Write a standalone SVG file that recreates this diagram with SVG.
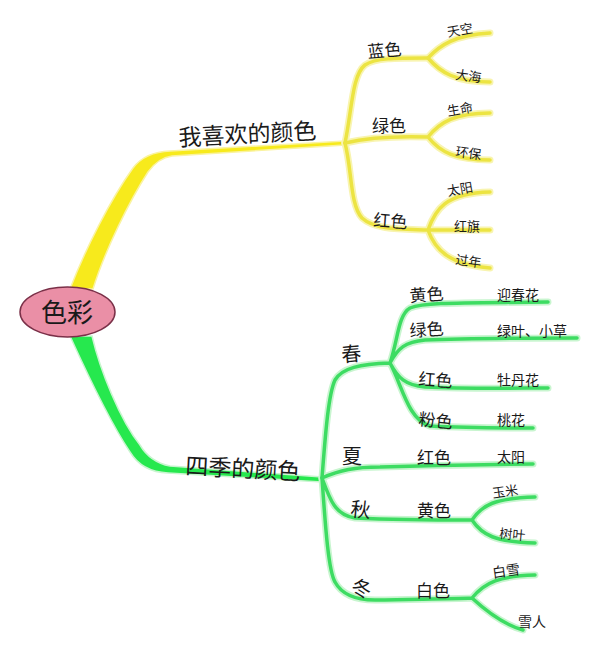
<svg xmlns="http://www.w3.org/2000/svg" width="598" height="649" viewBox="0 0 598 649">
<style>
text{font-family:"Noto Sans CJK SC","Noto Sans",sans-serif;fill:#1a1a1a}
.yh{fill:none;stroke:#f8f4b0;stroke-width:7;stroke-linecap:round}
.y{fill:none;stroke:#ece442;stroke-width:3.5;stroke-linecap:round}
.gh{fill:none;stroke:#c8f5cf;stroke-width:7;stroke-linecap:round}
.g{fill:none;stroke:#3ddc62;stroke-width:3.5;stroke-linecap:round}
.m{font-size:23px}
.b{font-size:17px}
.s{font-size:20px}
.l{font-size:13px}
.k{font-size:14px}
</style>
<rect width="598" height="649" fill="#ffffff"/>
<g id="connectors">
<path d="M70,289 C85,250 110,200 133,168 Q145,152 170,151 L345,141 L345,145 L172,156 Q158,158 148,172 C130,200 105,250 93,289 Z" fill="#f7ea1c" stroke="#faf3a0" stroke-width="1.5"/>
<path d="M92,336 C100,370 120,420 140,445 Q150,462 170,466 L322,477 L322,482 L168,473 Q142,472 130,452 C112,425 90,380 70,336 Z" fill="#26e84e" stroke="#c8f5cf" stroke-width="1.5"/>
<g>
<path class="yh" d="M345,143 C352,110 352,75 365,65 C375,58 395,58 428,58"/>
<path class="yh" d="M428,58 C440,45 455,35 490,33 M428,58 C440,72 455,82 490,82"/>
<path class="yh" d="M345,143 C370,137 400,136 428,137 M428,137 C440,122 455,113 490,113 M428,137 C440,152 455,160 490,160"/>
<path class="yh" d="M345,143 C352,170 350,205 362,218 C375,230 400,229 428,230 M428,230 C435,210 445,193 490,192 M428,230 L490,230 M428,230 C435,250 450,265 490,268"/>
<path class="y" d="M345,143 C352,110 352,75 365,65 C375,58 395,58 428,58"/>
<path class="y" d="M428,58 C440,45 455,35 490,33 M428,58 C440,72 455,82 490,82"/>
<path class="y" d="M345,143 C370,137 400,136 428,137 M428,137 C440,122 455,113 490,113 M428,137 C440,152 455,160 490,160"/>
<path class="y" d="M345,143 C352,170 350,205 362,218 C375,230 400,229 428,230 M428,230 C435,210 445,193 490,192 M428,230 L490,230 M428,230 C435,250 450,265 490,268"/>
</g>
<g>
<path class="gh" d="M322,478 C325,440 328,395 335,380 C342,368 360,364 390,363 M390,363 C398,340 398,315 410,308 C425,302 460,303 548,302 M390,363 C398,348 405,342 425,340 C470,338 530,338 577,338 M390,363 C398,378 405,385 425,387 C470,389 520,388 548,388 M390,363 C402,385 408,420 430,426 C470,428 500,428 533,428"/>
<path class="gh" d="M322,478 C340,470 355,467 380,467 C450,465 500,464 533,464 M322,478 C330,500 335,515 355,518 C400,520 440,520 472,520 M472,520 C482,505 495,498 535,497 M472,520 C482,535 495,542 535,543 M322,478 C325,520 328,570 335,582 C342,595 355,600 375,600 C420,599 450,599 472,598 M472,598 C485,582 500,576 535,575 M472,598 C485,610 505,625 523,630"/>
<path class="g" d="M322,478 C325,440 328,395 335,380 C342,368 360,364 390,363 M390,363 C398,340 398,315 410,308 C425,302 460,303 548,302 M390,363 C398,348 405,342 425,340 C470,338 530,338 577,338 M390,363 C398,378 405,385 425,387 C470,389 520,388 548,388 M390,363 C402,385 408,420 430,426 C470,428 500,428 533,428"/>
<path class="g" d="M322,478 C340,470 355,467 380,467 C450,465 500,464 533,464 M322,478 C330,500 335,515 355,518 C400,520 440,520 472,520 M472,520 C482,505 495,498 535,497 M472,520 C482,535 495,542 535,543 M322,478 C325,520 328,570 335,582 C342,595 355,600 375,600 C420,599 450,599 472,598 M472,598 C485,582 500,576 535,575 M472,598 C485,610 505,625 523,630"/>
</g>
</g>
<g id="root">
<ellipse cx="67.5" cy="312" rx="47.5" ry="25" fill="#ea8fa6" stroke="#7a3048" stroke-width="1.5"/>
<text x="67" y="322" font-size="26" text-anchor="middle">色彩</text>
</g>
<g id="n-like"><text class="m" x="179" y="146" transform="rotate(-3 179 146)">我喜欢的颜色</text></g>
<g id="n-season"><text class="m" x="185" y="474" transform="rotate(3 185 474)">四季的颜色</text></g>
<g id="n-blue"><text class="b" x="368" y="58" transform="rotate(-5 368 58)">蓝色</text></g>
<g id="n-green1"><text class="b" x="372" y="132">绿色</text></g>
<g id="n-red1"><text class="b" x="373" y="226" transform="rotate(4 373 226)">红色</text></g>
<g id="l-sky"><text class="l" x="448" y="37" transform="rotate(-10 448 37)">天空</text></g>
<g id="l-sea"><text class="l" x="455" y="79" transform="rotate(8 455 79)">大海</text></g>
<g id="l-life"><text class="l" x="448" y="116" transform="rotate(-10 448 116)">生命</text></g>
<g id="l-env"><text class="l" x="455" y="156" transform="rotate(8 455 156)">环保</text></g>
<g id="l-sun1"><text class="l" x="448" y="196" transform="rotate(-10 448 196)">太阳</text></g>
<g id="l-flag"><text class="l" x="454" y="231">红旗</text></g>
<g id="l-year"><text class="l" x="455" y="264" transform="rotate(8 455 264)">过年</text></g>
<g id="n-spring"><text class="s" x="342" y="362" transform="rotate(-5 342 362)">春</text></g>
<g id="n-summer"><text class="s" x="342" y="464">夏</text></g>
<g id="n-autumn"><text class="s" x="350" y="516" transform="rotate(5 350 516)">秋</text></g>
<g id="n-winter"><text class="s" x="350" y="593" transform="rotate(15 350 593)">冬</text></g>
<g id="n-sp-yellow"><text class="b" x="410" y="302" transform="rotate(-4 410 302)">黄色</text></g>
<g id="n-sp-green"><text class="b" x="410" y="337" transform="rotate(-4 410 337)">绿色</text></g>
<g id="n-sp-red"><text class="b" x="418" y="385" transform="rotate(4 418 385)">红色</text></g>
<g id="n-sp-pink"><text class="b" x="418" y="425" transform="rotate(6 418 425)">粉色</text></g>
<g id="n-su-red"><text class="b" x="417" y="464">红色</text></g>
<g id="n-au-yellow"><text class="b" x="417" y="517">黄色</text></g>
<g id="n-wi-white"><text class="b" x="416" y="597">白色</text></g>
<g id="l-yingchun"><text class="k" x="497" y="300">迎春花</text></g>
<g id="l-leaf"><text class="k" x="497" y="336">绿叶、小草</text></g>
<g id="l-peony"><text class="k" x="497" y="385">牡丹花</text></g>
<g id="l-peach"><text class="k" x="497" y="425">桃花</text></g>
<g id="l-sun2"><text class="k" x="497" y="462">太阳</text></g>
<g id="l-corn"><text class="l" x="493" y="498" transform="rotate(-8 493 498)">玉米</text></g>
<g id="l-leaves"><text class="l" x="499" y="538" transform="rotate(5 499 538)">树叶</text></g>
<g id="l-snow"><text class="k" x="493" y="578" transform="rotate(-8 493 578)">白雪</text></g>
<g id="l-snowman"><text class="k" x="518" y="627">雪人</text></g>
</svg>
